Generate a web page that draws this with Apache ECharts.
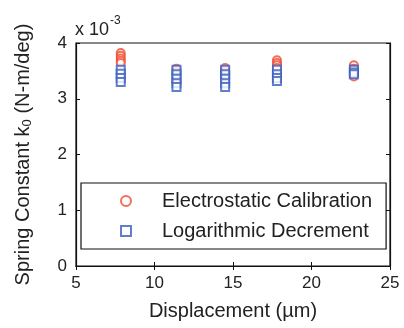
<!DOCTYPE html>
<html>
<head>
<meta charset="utf-8">
<script src="https://cdn.jsdelivr.net/npm/echarts@6/dist/echarts.min.js"></script>
<style>html,body{margin:0;padding:0;background:#fff;}#c{width:404px;height:328px;}</style>
</head>
<body>
<div id="c"></div>
<script>
// Displacement positions (µm)
const xElectro = [7.85,7.85,7.85,7.85,7.85, 11.4,11.4,11.4,11.4,11.4, 14.5,14.5,14.5,14.5,14.5, 17.8,17.8,17.8,17.8, 22.7,22.7,22.7,22.7,22.7];
// Spring constant (x 10^-3 N-m/deg), electrostatic calibration
const yElectro = [3.82,3.77,3.72,3.68,3.64, 3.54,3.48,3.42,3.36,3.30, 3.55,3.50,3.46,3.41,3.37, 3.69,3.64,3.60,3.55, 3.60,3.54,3.48,3.43,3.40];
const xLog = [7.85,7.85,7.85,7.85, 11.4,11.4,11.4,11.4,11.4, 14.5,14.5,14.5,14.5,14.5, 17.8,17.8,17.8,17.8, 22.7,22.7,22.7];
// Spring constant (x 10^-3 N-m/deg), logarithmic decrement
const yLog = [3.52,3.45,3.37,3.30, 3.52,3.44,3.36,3.28,3.21, 3.52,3.44,3.36,3.28,3.21, 3.52,3.44,3.37,3.32, 3.52,3.47,3.44];
const xTicks = [5,10,15,20,25];
const yTicks = [0,1,2,3,4];
const seriesNames = ['Electrostatic Calibration','Logarithmic Decrement'];

const FONT = '"Liberation Sans", Arial, sans-serif';
const chart = echarts.init(document.getElementById('c'), null, {renderer:'canvas'});
const tick = {show:true, inside:true, length:4, lineStyle:{color:'#111', width:1}};
chart.setOption({
  animation:false,
  backgroundColor:'#fff',
  grid:{left:76, right:14, top:43, bottom:62, show:true, borderColor:'#111', borderWidth:1.2, backgroundColor:'#fff'},
  xAxis:[{
    type:'value', min:xTicks[0], max:xTicks[xTicks.length-1], interval:5,
    axisLine:{show:true, lineStyle:{color:'#111', width:1.2}},
    axisTick:tick, splitLine:{show:false},
    axisLabel:{color:'#222', fontSize:17, fontFamily:FONT, margin:9},
    name:'Displacement (\u00b5m)', nameLocation:'middle', nameGap:35,
    nameTextStyle:{color:'#222', fontSize:20, fontFamily:FONT}
  },{
    type:'value', position:'top', min:5, max:25, interval:5,
    axisLine:{show:true, lineStyle:{color:'#111', width:1.2}},
    axisTick:tick, axisLabel:{show:false}, splitLine:{show:false}
  }],
  yAxis:[{
    type:'value', min:yTicks[0], max:yTicks[yTicks.length-1], interval:1,
    axisLine:{show:true, lineStyle:{color:'#111', width:1.2}},
    axisTick:tick, splitLine:{show:false},
    axisLabel:{color:'#222', fontSize:17, fontFamily:FONT, margin:9},
    name:'{a|Spring Constant k}{s|0}{a| (N-m/deg)}', nameLocation:'middle', nameGap:42,
    nameTextStyle:{color:'#222', fontSize:20, fontFamily:FONT,
      rich:{a:{fontSize:20, fontFamily:FONT, color:'#222'}, s:{fontSize:13, fontFamily:FONT, color:'#222', verticalAlign:'bottom', padding:[9,0,0,0]}}}
  },{
    type:'value', position:'right', min:0, max:4, interval:1,
    axisLine:{show:true, lineStyle:{color:'#111', width:1.2}},
    axisTick:tick, axisLabel:{show:false}, splitLine:{show:false}
  }],
  legend:{
    orient:'vertical', left:81, top:183,
    padding:[8,14,8,39], itemGap:10, itemWidth:10, itemHeight:10,
    borderColor:'#111', borderWidth:1.2, backgroundColor:'#fff',
    textStyle:{color:'#222', fontSize:20, fontFamily:FONT, padding:[0,0,0,26]},
    data:seriesNames
  },
  graphic:[{
    type:'text', left:75, top:15,
    style:{text:'{a|x 10}{s|-3}', fill:'#222', font:'18px '+FONT,
      rich:{a:{fontSize:18, fontFamily:FONT, fill:'#222', padding:[10,0,0,0]}, s:{fontSize:12, fontFamily:FONT, fill:'#222', padding:[0,0,9,1]}}}
  }],
  series:[{
    name:seriesNames[0], type:'scatter', symbol:'emptyCircle', symbolSize:8,
    itemStyle:{color:'#ee4a2e', borderColor:'#ee4a2e', borderWidth:1.5},
    data:xElectro.map((x,i)=>[x,yElectro[i]]), z:2
  },{
    name:seriesNames[1], type:'scatter', symbol:'emptyRect', symbolSize:8,
    itemStyle:{color:'#3a5fc0', borderColor:'#3a5fc0', borderWidth:1.5},
    data:xLog.map((x,i)=>[x,yLog[i]]), z:3
  }]
});
</script>
</body>
</html>
